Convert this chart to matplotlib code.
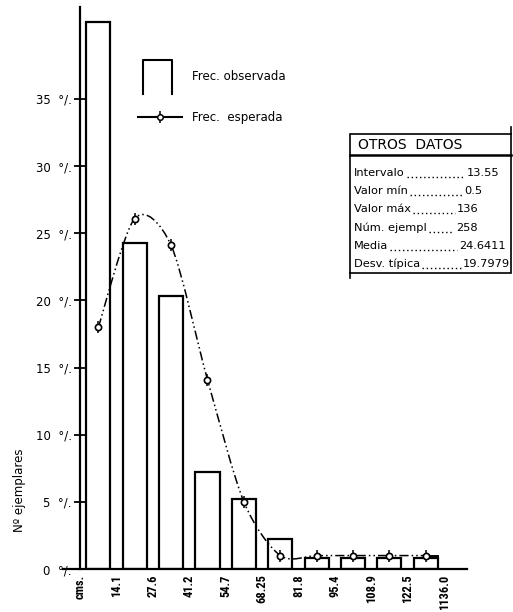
import matplotlib
matplotlib.use('Agg')

import matplotlib.pyplot as plt
from matplotlib import font_manager
from matplotlib.path import Path
from matplotlib.patches import PathPatch, Rectangle
from matplotlib.lines import Line2D
import numpy as np

# data
bin_labels = ['cms.', '14.1', '27.6', '41.2', '54.7', '68.25', '81.8',
              '95.4', '108.9', '122.5', '1136.0']
observed = [40.7, 24.3, 20.3, 7.2, 5.2, 2.2, 0.8, 0.8, 0.8, 0.8]
expected = [18.0, 26.1, 24.1, 14.1, 5.0, 1.0, 1.0, 1.0, 1.0, 1.0]
y_ticks = [0, 5, 10, 15, 20, 25, 30, 35]
info_title = 'OTROS  DATOS'
info_labels = ['Intervalo', 'Valor mín', 'Valor máx', 'Núm. ejempl', 'Media', 'Desv. típica']
info_values = ['13.55', '0.5', '136', '258', '24.6411', '19.7979']

plt.rcParams['font.family'] = 'DejaVu Sans'

# narrow face for the rotated axis labels
names = {f.name for f in font_manager.fontManager.ttflist}
narrow = 'DejaVu Sans'
for cand in ['Roboto Condensed', 'Liberation Sans Narrow', 'DejaVu Sans Condensed']:
    if cand in names:
        narrow = cand
        break

W, H = 513, 612


def fx(px):
    return px / W


def fy(py):
    return 1 - py / H


fig = plt.figure(figsize=(W / 100, H / 100), dpi=100)
ax = fig.add_axes([fx(63), fy(569), (467 - 63) / W, (569 - 7) / H])
ax.set_xlim(-0.47, 10.63)
ax.set_ylim(0, 41.85)
ax.patch.set_alpha(0)

centers = np.arange(len(observed)) + 0.5
bar_w = 0.66

ax.bar(centers, observed, width=bar_w, fill=False, edgecolor='black', linewidth=1.6)

# smooth expected curve (Catmull-Rom as bezier path through the points)
pts = np.column_stack([centers, expected])
verts = [pts[0]]
codes = [Path.MOVETO]
n = len(pts)
for i in range(n - 1):
    p0 = pts[max(i - 1, 0)]
    p1 = pts[i]
    p2 = pts[i + 1]
    p3 = pts[min(i + 2, n - 1)]
    verts += [p1 + (p2 - p0) / 7, p2 - (p3 - p1) / 7, p2]
    codes += [Path.CURVE4] * 3
curve = PathPatch(Path(verts, codes), fill=False, edgecolor='black', linewidth=1.1,
                  linestyle=(0, (6, 2, 1, 2, 1, 2)))
ax.add_patch(curve)
ax.plot([centers[-1], centers[-1] + bar_w / 2], [expected[-1], expected[-1]],
        color='black', lw=1.4)
ax.plot(centers, expected, ls='none', marker='|', ms=9, mec='black', mew=1.1)
ax.plot(centers, expected, ls='none', marker='o', ms=4.5, mfc='white',
        mec='black', mew=1.2)

for s in ['top', 'right']:
    ax.spines[s].set_visible(False)
ax.spines['left'].set_position(('data', 0))
ax.spines['left'].set_linewidth(1.6)
ax.spines['bottom'].set_linewidth(1.6)

ax.set_yticks(y_ticks)
ax.set_yticklabels([f'{v}  °/.' for v in y_ticks], fontsize=8.5)
ax.tick_params(axis='y', direction='inout', length=8, width=1.3, pad=2)
ax.set_xticks(np.arange(len(bin_labels)))
ax.set_xticklabels(bin_labels, rotation=90, fontsize=9, family=narrow, fontweight='bold')
ax.tick_params(axis='x', length=0, pad=4)

fig.text(fx(20), fy(490), 'Nº ejemplares', rotation=90, ha='center', va='center',
         fontsize=8.5)

# legend
fig.add_artist(Line2D([fx(143), fx(143), fx(172), fx(172)],
                      [fy(94), fy(60), fy(60), fy(94)], color='black', lw=1.5))
fig.text(fx(192), fy(76), 'Frec. observada', va='center', fontsize=8.5)
fig.add_artist(Line2D([fx(138), fx(182)], [fy(117), fy(117)], color='black', lw=1.5))
fig.add_artist(Line2D([fx(160)], [fy(117)], ls='none', marker='|', ms=8,
                      mec='black', mew=1.1))
fig.add_artist(Line2D([fx(160)], [fy(117)], ls='none', marker='o', ms=4, mfc='white',
                      mec='black', mew=1.1))
fig.text(fx(192), fy(117), 'Frec.  esperada', va='center', fontsize=8.5)

# info box
fig.add_artist(Rectangle((fx(350), fy(273)), (511 - 350) / W, (273 - 134) / H,
                         fill=False, edgecolor='black', lw=1.2))
fig.add_artist(Line2D([fx(350), fx(350)], [fy(273), fy(278)], color='black', lw=1.2))
fig.add_artist(Line2D([fx(511), fx(511)], [fy(134), fy(127)], color='black', lw=1.2))
fig.add_artist(Line2D([fx(350), fx(511)], [fy(155), fy(155)], color='black', lw=1.8))
fig.text(fx(358), fy(145), info_title, va='center', fontsize=10)

row_y = [176, 194, 212, 231, 249, 267]
value_x = [467, 464, 457, 456, 459, 463]
label_texts = []
for lab, val, yy, vx in zip(info_labels, info_values, row_y, value_x):
    label_texts.append(fig.text(fx(354), fy(yy), lab, va='baseline', fontsize=8.2))
    fig.text(fx(vx), fy(yy), val, va='baseline', fontsize=8.2)

# dotted leaders between label and value
fig.canvas.draw()
renderer = fig.canvas.get_renderer()
for t, yy, vx in zip(label_texts, row_y, value_x):
    x_end = t.get_window_extent(renderer).x1
    fig.add_artist(Line2D([fx(x_end + 2), fx(vx - 2)], [fy(yy + 0.5), fy(yy + 0.5)],
                          color='black', lw=1.0, ls=(0, (1, 2))))

fig.savefig('out.png', dpi=100)
